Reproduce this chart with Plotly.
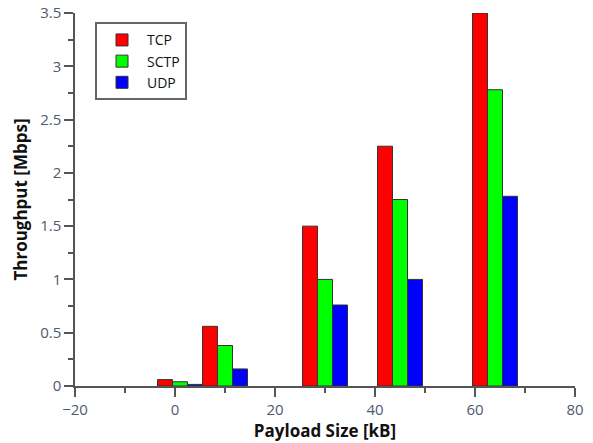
import plotly.graph_objects as go

payload = [1, 10, 30, 45, 64]
tcp = [0.06, 0.56, 1.5, 2.25, 3.5]
sctp = [0.04, 0.38, 1.0, 1.75, 2.78]
udp = [0.015, 0.16, 0.76, 1.0, 1.78]

series = [("TCP", tcp, "#ff0000", -4.5), ("SCTP", sctp, "#00ff00", -1.5), ("UDP", udp, "#0000ff", 1.5)]

fig = go.Figure()
for name, vals, col, off in series:
    fig.add_trace(go.Bar(
        x=payload, y=vals, name=name, width=3, offset=off,
        marker=dict(color=col, line=dict(color="#333333", width=1)),
    ))

tickfont = dict(family="Open Sans, DejaVu Sans, sans-serif", size=15, color="#4d5a70")
titlefont = dict(family="Open Sans, DejaVu Sans, sans-serif", size=17, color="#111111")

fig.update_layout(
    width=593, height=443,
    margin=dict(l=75, r=18, t=13, b=57, autoexpand=False),
    plot_bgcolor="white", paper_bgcolor="white",
    barmode="overlay",
    showlegend=True,
    legend=dict(
        x=0.04, y=0.975, xanchor="left", yanchor="top",
        bordercolor="#666666", borderwidth=2, bgcolor="white",
        font=dict(family="Open Sans, DejaVu Sans, sans-serif", size=14, color="#111111"),
        itemwidth=40, tracegroupgap=0,
    ),
    xaxis=dict(
        range=[-20, 80], tickmode="linear", tick0=-20, dtick=20,
        ticks="outside", ticklen=9, tickcolor="#555555", tickwidth=1.5,
        showline=True, linecolor="#555555", linewidth=1.5,
        showgrid=False, zeroline=False, automargin=False,
        tickfont=tickfont,
        minor=dict(ticks="outside", ticklen=5, dtick=10, tick0=-20, tickcolor="#555555", tickwidth=1.5, showgrid=False),
        title=dict(text="<b>Payload Size [kB]</b>", font=titlefont, standoff=2),
    ),
    yaxis=dict(
        range=[0, 3.5], tickmode="linear", tick0=0, dtick=0.5,
        ticks="outside", ticklen=9, tickcolor="#555555", tickwidth=1.5,
        showline=True, linecolor="#555555", linewidth=1.5,
        showgrid=False, zeroline=False, automargin=False,
        tickfont=tickfont,
        minor=dict(ticks="outside", ticklen=5, dtick=0.25, tick0=0, tickcolor="#555555", tickwidth=1.5, showgrid=False),
        title=dict(text="<b>Throughput [Mbps]</b>", font=titlefont, standoff=8),
    ),
)

fig.write_html("out.html")
